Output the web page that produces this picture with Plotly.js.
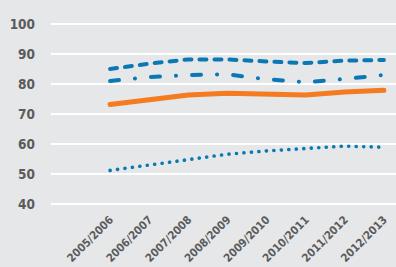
<!DOCTYPE html>
<html><head><meta charset="utf-8">
<script src="https://cdn.plot.ly/plotly-3.0.1.min.js"></script>
<style>
html,body{margin:0;padding:0;background:#e6e7e8;}
#c{width:396px;height:267px;}
.scatterlayer .js-line{stroke-linecap:round !important;}
</style></head><body><div id="c"></div>
<script>
const years = ["2005/2006","2006/2007","2007/2008","2008/2009","2009/2010","2010/2011","2011/2012","2012/2013"];
const seriesDashed  = [85.0, 86.8, 88.2, 88.2, 87.5, 87.0, 87.8, 88.0];
const seriesDashDot = [81.0, 82.3, 83.0, 83.2, 81.6, 80.6, 81.7, 83.0];
const seriesSolid   = [73.2, 74.8, 76.3, 76.9, 76.8, 76.3, 77.3, 77.9];
const seriesDotted  = [51.2, 53.0, 54.5, 56.6, 57.7, 58.4, 59.3, 58.9];
const yTicks = [40,50,60,70,80,90,100];

const blue = "#0a78b4", orange = "#f47b20";
const font = "DejaVu Sans Condensed";

const traces = [
  {x: years, y: seriesDashed, mode:"lines", line:{color:blue, width:4, dash:"7px,8px"}},
  {x: years, y: seriesDashDot, mode:"lines", line:{color:blue, width:4, dash:"9px,16px,0.1px,16px"}},
  {x: years, y: seriesSolid, mode:"lines", line:{color:orange, width:5}},
  {x: years, y: seriesDotted, mode:"lines", line:{color:blue, width:3.6, dash:"0.1px,7.4px"}}
];
const layout = {
  width:396, height:267,
  margin:{l:51, r:0, t:18, b:57},
  paper_bgcolor:"#e6e7e8", plot_bgcolor:"#e6e7e8",
  showlegend:false,
  font:{family:font, color:"#5a5b5d", size:13},
  xaxis:{type:"category", range:[-1.51, 7.31], showgrid:false, zeroline:false, showline:false,
         tickangle:-45, tickfont:{family:font, size:11.2, color:"#5a5b5d", weight:"bold"}, ticks:"", ticklabelstandoff:0},
  yaxis:{range:[38,102], tickvals:yTicks, showgrid:true, gridcolor:"#ffffff", gridwidth:1.6, zeroline:false, showline:false,
         tickfont:{family:font, size:13.5, color:"#5a5b5d", weight:"bold"}, ticks:"", ticklabelstandoff:15}
};
Plotly.newPlot("c", traces, layout, {displayModeBar:false, staticPlot:true});
</script></body></html>
